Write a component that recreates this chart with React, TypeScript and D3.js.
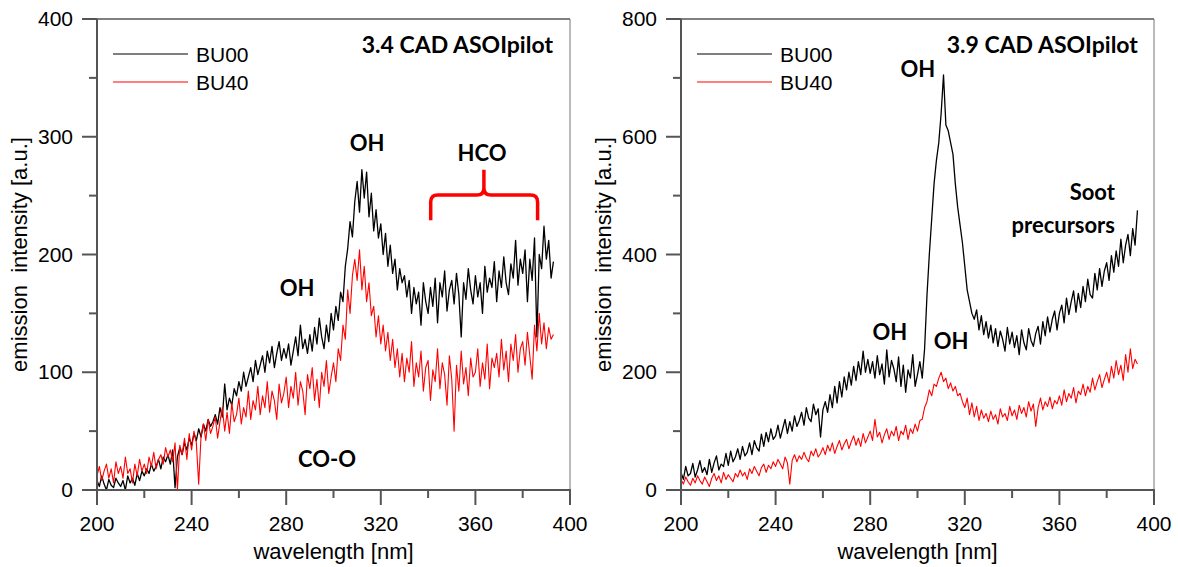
import React, { useEffect, useRef } from 'react'
import * as d3 from 'd3'

// spectra sampled every 1 nm starting at 200 nm
const startNm = 200

const bu00Left = [
  8, 3, 12, 5, 0, 9, 4, 2, 10, 6,
  3, 8, 0, 12, 6, 10, 4, 14, 8, 16,
  12, 18, 14, 22, 16, 20, 26, 18, 28, 24,
  30, 22, 34, 2, 28, 36, 30, 40, 34, 44,
  38, 48, 42, 52, 45, 56, 50, 60, 54, 58,
  64, 56, 70, 62, 90, 68, 78, 72, 86, 80,
  92, 84, 100, 88, 96, 104, 92, 110, 98, 106,
  114, 100, 118, 108, 122, 104, 116, 126, 110, 120,
  112, 124, 106, 118, 130, 114, 140, 120, 128, 116,
  132, 118, 138, 124, 146, 130, 120, 140, 126, 150,
  136, 156, 144, 168, 160, 190, 205, 228, 215, 245,
  262, 236, 272, 248, 270, 232, 252, 220, 238, 214,
  226, 200, 218, 190, 208, 184, 196, 170, 188, 176,
  182, 164, 178, 150, 172, 158, 168, 140, 176, 160,
  150, 172, 156, 180, 142, 176, 164, 186, 152, 170,
  178, 158, 184, 166, 130, 176, 162, 188, 170, 158,
  182, 164, 176, 150, 190, 168, 180, 172, 194, 160,
  186, 172, 198, 176, 166, 192, 180, 212, 174, 196,
  184, 204, 160, 196, 178, 214, 130, 200, 188, 224,
  196, 212, 180, 194
]

const bu40Left = [
  12, 20, 8, 16, 22, 10, 18, 6, 24, 14,
  20, 10, 28, 14, 18, 6, 22, 12, 26, 16,
  22, 14, 28, 20, 32, 18, 26, 30, 22, 36,
  28, 34, 24, 40, 0, 38, 30, 44, 26, 48,
  34, 50, 40, 5, 46, 56, 42, 60, 48, 54,
  62, 44, 58, 70, 50, 66, 48, 74, 58, 64,
  78, 56, 70, 62, 84, 60, 76, 68, 88, 64,
  80, 70, 92, 66, 84, 76, 60, 90, 74, 82,
  96, 70, 88, 78, 100, 72, 92, 84, 64, 98,
  86, 104, 76, 94, 70, 100, 88, 110, 82, 96,
  108, 92, 120, 110, 140, 128, 170, 150, 182, 196,
  178, 204, 170, 190, 160, 176, 148, 156, 130, 148,
  124, 140, 118, 134, 110, 128, 104, 120, 96, 116,
  92, 112, 100, 126, 88, 108, 96, 118, 84, 104,
  110, 76, 102, 92, 120, 86, 108, 98, 72, 114,
  94, 50, 106, 84, 118, 90, 104, 80, 112, 96,
  100, 120, 88, 108, 94, 124, 86, 112, 104, 116,
  96, 128, 102, 118, 92, 124, 110, 132, 100, 120,
  126, 106, 134, 114, 94, 140, 118, 150, 124, 142,
  120, 138, 128, 132
]

const bu00Right = [
  30, 18, 40, 24, 28, 45, 22, 34, 50, 30,
  38, 26, 52, 30, 46, 58, 34, 44, 40, 62,
  42, 66, 48, 56, 70, 52, 74, 58, 64, 80,
  60, 84, 72, 66, 95, 74, 98, 82, 104, 86,
  92, 110, 88, 104, 120, 96, 116, 100, 126, 108,
  118, 132, 110, 140, 122, 116, 146, 128, 138, 90,
  136, 150, 132, 162, 140, 176, 148, 184, 158, 192,
  170, 200, 178, 210, 186, 218, 196, 236, 200, 222,
  198, 218, 190, 228, 196, 214, 180, 238, 192, 220,
  206, 184, 226, 176, 212, 166, 204, 190, 230, 176,
  196, 218, 190, 240, 330, 400, 460, 520, 560, 590,
  640, 705, 620, 610, 590, 570, 520, 480, 450, 420,
  380, 340, 320, 300, 290, 306, 272, 296, 264, 286,
  258, 280, 250, 274, 244, 270, 256, 236, 276, 248,
  268, 242, 262, 230, 272, 250, 238, 274, 254, 244,
  266, 278, 248, 286, 262, 294, 268, 290, 304, 272,
  300, 314, 284, 326, 298, 320, 338, 302, 334, 310,
  346, 320, 358, 332, 326, 368, 340, 376, 346, 372,
  386, 356, 398, 370, 406, 380, 426, 386, 416, 434,
  398, 444, 416, 475
]

const bu40Right = [
  18, 10, 22, 14, 8, 20, 12, 24, 16, 10,
  22, 14, 6, 20, 28, 16, 24, 12, 30, 18,
  26, 20, 14, 28, 22, 34, 24, 30, 18, 36,
  28, 40, 32, 24, 38, 44, 30, 42, 36, 48,
  40, 52, 44, 36, 56, 46, 10, 50, 60, 48,
  58, 52, 64, 54, 48, 66, 58, 70, 56, 62,
  72, 60, 76, 66, 80, 62, 74, 84, 68, 78,
  86, 70, 82, 92, 76, 88, 74, 96, 80, 90,
  100, 84, 120, 90, 98, 80, 94, 104, 86, 100,
  92, 108, 84, 100, 94, 110, 86, 104, 96, 112,
  100, 118, 120, 140, 150, 170, 160, 180, 176, 190,
  200, 184, 190, 172, 182, 168, 176, 160, 164, 150,
  140, 156, 128, 148, 124, 142, 118, 136, 122, 130,
  116, 134, 120, 128, 112, 138, 124, 130, 118, 142,
  126, 136, 120, 144, 130, 140, 124, 150, 134, 146,
  108, 140, 156, 136, 150, 142, 158, 138, 152, 146,
  160, 144, 170, 150, 164, 156, 174, 148, 168, 162,
  180, 160, 176, 166, 190, 170, 184, 196, 174, 188,
  200, 182, 210, 190, 220, 196, 212, 186, 230, 200,
  240, 206, 222, 214
]

const seriesNames = ['BU00', 'BU40']
const seriesColors = ['#000000', '#ff0000']
const xMajorTicks = [200, 240, 280, 320, 360, 400]
const xMinorTicks = [220, 260, 300, 340, 380]
const yMajorLeft = [0, 100, 200, 300, 400]
const yMinorLeft = [50, 150, 250, 350]
const yMajorRight = [0, 200, 400, 600, 800]
const yMinorRight = [100, 300, 500, 700]

const labelsLeft = [
  { text: '3.4 CAD ASOIpilot', nm: 392.8, v: 371, anchor: 'end', size: 23 },
  { text: 'OH', nm: 314.2, v: 288, anchor: 'middle', size: 22 },
  { text: 'HCO', nm: 362.8, v: 279, anchor: 'middle', size: 22 },
  { text: 'OH', nm: 284.6, v: 165, anchor: 'middle', size: 22 },
  { text: 'CO-O', nm: 297.3, v: 19.5, anchor: 'middle', size: 22 }
]
const labelsRight = [
  { text: '3.9 CAD ASOIpilot', nm: 393.2, v: 742, anchor: 'end', size: 23 },
  { text: 'OH', nm: 300.2, v: 701, anchor: 'middle', size: 22 },
  { text: 'Soot', nm: 383.5, v: 492, anchor: 'end', size: 22 },
  { text: 'precursors', nm: 383.5, v: 436, anchor: 'end', size: 22 },
  { text: 'OH', nm: 288.3, v: 255, anchor: 'middle', size: 22 },
  { text: 'OH', nm: 314.2, v: 240, anchor: 'middle', size: 22 }
]

function drawPanel(svg, left, right, top, bottom, yMax, yMajor, yMinor, series, labels, titleX) {
  const x = d3.scaleLinear().domain([200, 400]).range([left, right])
  const y = d3.scaleLinear().domain([0, yMax]).range([bottom, top])
  const g = svg.append('g')
  const font = '"Liberation Sans", Arial, sans-serif'

  // frame
  g.append('line').attr('x1', left).attr('x2', right).attr('y1', top).attr('y2', top)
    .attr('stroke', '#000').attr('stroke-width', 1)
  g.append('line').attr('x1', right).attr('x2', right).attr('y1', top).attr('y2', bottom)
    .attr('stroke', '#777').attr('stroke-width', 1)

  // spectra
  const line = d3.line<number>().x((d, i) => x(startNm + i)).y(d => y(d))
  series.forEach((s, k) => {
    g.append('path').datum(s).attr('d', line).attr('fill', 'none')
      .attr('stroke', seriesColors[k]).attr('stroke-width', k === 0 ? 1.3 : 1.1)
      .attr('stroke-linejoin', 'round')
  })

  // axes
  const ax = g.append('g').attr('stroke', '#555').attr('stroke-width', 2)
  ax.append('line').attr('x1', left).attr('x2', left).attr('y1', top).attr('y2', bottom + 1)
  ax.append('line').attr('x1', left - 1).attr('x2', right + 1).attr('y1', bottom).attr('y2', bottom)
  yMajor.forEach(v => ax.append('line').attr('x1', left - 15).attr('x2', left).attr('y1', y(v)).attr('y2', y(v)))
  yMinor.forEach(v => ax.append('line').attr('x1', left - 8).attr('x2', left).attr('y1', y(v)).attr('y2', y(v)))
  xMajorTicks.forEach(v => ax.append('line').attr('x1', x(v)).attr('x2', x(v)).attr('y1', bottom).attr('y2', bottom + 15))
  xMinorTicks.forEach(v => ax.append('line').attr('x1', x(v)).attr('x2', x(v)).attr('y1', bottom).attr('y2', bottom + 8))

  g.selectAll('.ylab').data(yMajor).enter().append('text')
    .attr('x', left - 24).attr('y', d => y(d) + 7).attr('text-anchor', 'end')
    .attr('font-family', font).attr('font-size', 21).text(d => d)
  g.selectAll('.xlab').data(xMajorTicks).enter().append('text')
    .attr('x', d => x(d)).attr('y', bottom + 41).attr('text-anchor', 'middle')
    .attr('font-family', font).attr('font-size', 21).text(d => d)

  g.append('text').attr('x', (left + right) / 2).attr('y', bottom + 69).attr('text-anchor', 'middle')
    .attr('font-family', font).attr('font-size', 22).text('wavelength [nm]')
  g.append('text').attr('transform', `translate(${titleX},${(top + bottom) / 2}) rotate(-90)`)
    .attr('text-anchor', 'middle').attr('font-family', font).attr('font-size', 22)
    .attr('xml:space', 'preserve').style('white-space', 'pre').text('emission  intensity [a.u.]')

  // legend
  seriesNames.forEach((name, k) => {
    const ly = top + 35 + k * 28
    g.append('line').attr('x1', left + 16).attr('x2', left + 91).attr('y1', ly).attr('y2', ly)
      .attr('stroke', seriesColors[k]).attr('stroke-width', 1.2)
    g.append('text').attr('x', left + 99).attr('y', ly + 8).attr('font-family', font)
      .attr('font-size', 21).text(name)
  })

  // annotations
  labels.forEach(l => {
    g.append('text').attr('x', x(l.nm)).attr('y', y(l.v)).attr('text-anchor', l.anchor)
      .attr('font-family', 'Lato, "Open Sans", sans-serif').attr('font-weight', 700)
      .attr('font-size', l.size).text(l.text)
  })
  return { x, y, g }
}

export default function App() {
  const ref = useRef<SVGSVGElement>(null)

  useEffect(() => {
    const svg = d3.select(ref.current)
    svg.selectAll('*').remove()
    const p1 = drawPanel(svg, 97, 570, 19, 490, 400, yMajorLeft, yMinorLeft, [bu00Left, bu40Left], labelsLeft, 27)
    drawPanel(svg, 681, 1154, 19, 490, 800, yMajorRight, yMinorRight, [bu00Right, bu40Right], labelsRight, 611)

    // HCO brace
    const { x, y, g } = p1
    const x1 = x(341.1), x2 = x(386.3), xc = x(363.6)
    const yb = y(229), yh = y(250.5), yt = y(272), r = 7
    const path = `M${x1},${yb} L${x1},${yh + r} Q${x1},${yh} ${x1 + r},${yh} L${xc - r},${yh} Q${xc},${yh} ${xc},${yh - r} L${xc},${yt}` +
      ` M${xc},${yh - r} Q${xc},${yh} ${xc + r},${yh} L${x2 - r},${yh} Q${x2},${yh} ${x2},${yh + r} L${x2},${yb}`
    g.append('path').attr('d', path).attr('fill', 'none').attr('stroke', '#ff0000').attr('stroke-width', 3.5)
  }, [])

  return (
    <svg ref={ref} width={1178} height={567} style={{ position: 'absolute', left: 0, top: 0, background: '#fff' }} />
  )
}
